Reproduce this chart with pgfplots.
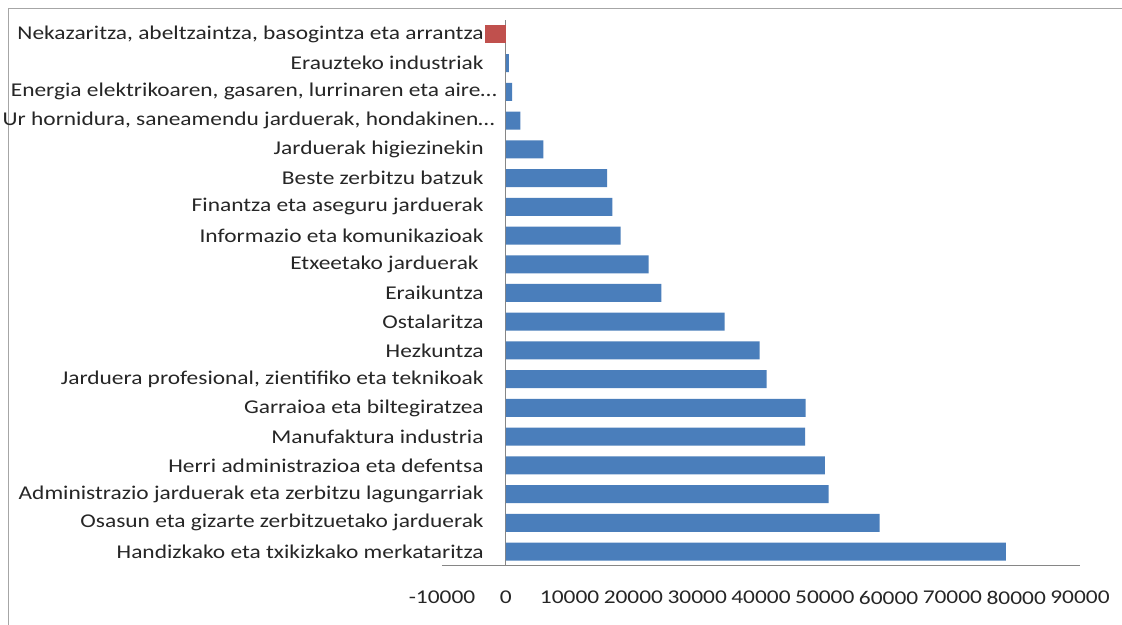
\documentclass[border=0pt]{standalone}
\usepackage{pgfplots}
\pgfplotsset{compat=1.18}
\usepackage{fontspec}
\setmainfont{Carlito}[FakeStretch=1.2]
\definecolor{xlblue}{HTML}{4A7EBB}
\definecolor{xlred}{HTML}{C0504D}
\definecolor{axgray}{HTML}{868686}
\begin{document}
\begin{tikzpicture}[x=1pt,y=1pt]
\useasboundingbox (0,0) rectangle (1122,624);
\fill[white] (0,0) rectangle (1122,624);
\draw[color=black!35, line width=1pt] (8.5,-5) -- (8.5,615.5) -- (1130,615.5);
\begin{axis}[
  at={(442pt,58pt)}, anchor=south west,
  scale only axis, width=638pt, height=546pt,
  xmin=-10000, xmax=90000, ymin=-0.5, ymax=18.5,
  axis x line*=bottom, axis y line*=middle,
  axis line style={axgray, line width=1pt},
  major tick length=0pt,
  xtick={-10000,0,10000,20000,30000,40000,50000,60000,70000,80000,90000},
  scaled ticks=false,
  /pgf/number format/.cd, 1000 sep={}, assume math mode=true, /pgfplots/.cd,
  ytick={0,1,2,3,4,5,6,7,8,9,10,11,12,13,14,15,16,17,18},
  yticklabels={
    Handizkako eta txikizkako merkataritza,
    Osasun eta gizarte zerbitzuetako jarduerak,
    Administrazio jarduerak eta zerbitzu lagungarriak,
    Herri administrazioa eta defentsa,
    Manufaktura industria,
    Garraioa eta biltegiratzea,
    {Jarduera profesional, zientifiko eta teknikoak},
    Hezkuntza,
    Ostalaritza,
    Eraikuntza,
    {Etxeetako jarduerak\hspace*{5pt}},
    Informazio eta komunikazioak,
    Finantza eta aseguru jarduerak,
    Beste zerbitzu batzuk,
    Jarduerak higiezinekin,
    {Ur hornidura, saneamendu jarduerak, hondakinen…\hspace*{-11pt}},
    {Energia elektrikoaren, gasaren, lurrinaren eta aire…\hspace*{-13pt}},
    Erauzteko industriak,
    {Nekazaritza, abeltzaintza, basogintza eta arrantza}},
  ticklabel style={font=\fontsize{19.5}{22}\selectfont, text=black!85},
  yticklabel style={anchor=east, inner sep=0pt, xshift=-22pt},
  xticklabel style={anchor=north, inner sep=0pt, yshift=-25pt},
  clip=false,
]
\addplot[xbar, bar width=18pt, bar shift=0pt, fill=xlblue, draw=none] coordinates {
  (78400,0) (58600,1) (50600,2) (50000,3) (46900,4) (47000,5) (40900,6)
  (39800,7) (34300,8) (24400,9) (22400,10) (18000,11) (16700,12) (15900,13)
  (5900,14) (2300,15) (1000,16) (500,17)
};
\addplot[xbar, bar width=18pt, bar shift=0pt, fill=xlred, draw=none] coordinates {
  (-3200,18)
};
\end{axis}
\end{tikzpicture}
\end{document}
